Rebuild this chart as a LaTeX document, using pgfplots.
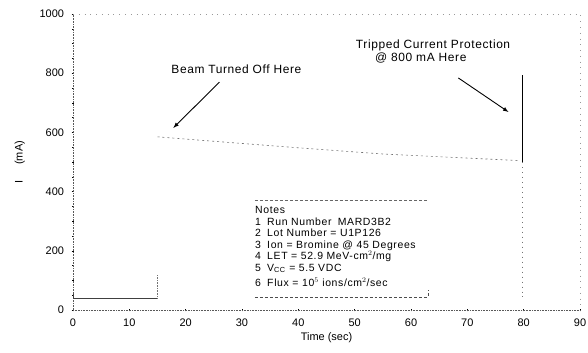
\documentclass[border=0pt]{standalone}
\usepackage{pgfplots}
\pgfplotsset{compat=1.18}
\usepackage{fontspec}
\setmainfont{Liberation Sans}
\newfontfamily\annfont[LetterSpace=5]{Liberation Sans}
\newfontfamily\notefont[LetterSpace=6]{Liberation Sans}
\begin{document}
\begin{tikzpicture}[font=\fontsize{11}{12}\selectfont]
\useasboundingbox (-73bp,-43bp) rectangle (515bp,310bp);
\begin{axis}[
  at={(0,0)}, anchor=origin,
  scale only axis,
  width=507bp, height=296bp,
  xmin=0, xmax=90, ymin=0, ymax=1000,
  axis lines=left,
  xtick={0,10,...,90}, ytick={0,200,...,1000},
  minor y tick num=3,
  /pgf/number format/assume math mode=true,
  /pgf/number format/1000 sep={},
  axis line style={black!65, densely dotted, line width=0.6pt, -},
  tick style={black, line width=0.5pt},
  major tick length=3pt, minor tick length=2pt,
  tick align=center,
  xlabel={Time (sec)}, ylabel={I\hspace{1.4em}(mA)},
  ylabel style={at={(axis description cs:-0.105,0.5)}, anchor=center, rotate=0},
  yticklabel style={xshift=-4pt},
  xticklabel style={yshift=-4pt},
  xlabel style={yshift=1pt},
  clip=false,
]
% faint frame top and right
\draw[black!40, dash pattern=on 0.8pt off 5pt, line width=0.6pt] (rel axis cs:0,1) -- (rel axis cs:1,1) -- (rel axis cs:1,0);
% current before beam off
\addplot[black!75, line width=0.5pt] coordinates {(0,55) (0,40) (15,40)};
\addplot[black!55, densely dotted, line width=0.6pt] coordinates {(15,40) (15,118)};
% slow decay while beam off
\addplot[black!55, dash pattern=on 2pt off 3pt, line width=0.6pt] coordinates {(15,585) (25,570) (40,548) (55,527) (79,505)};
% trip at 80 s
\addplot[black, line width=0.9pt] coordinates {(79.8,500) (79.8,642)};
\addplot[black, line width=0.4pt] coordinates {(79.8,642) (79.8,794)};
\addplot[black!55, dash pattern=on 1pt off 4pt, line width=0.6pt] coordinates {(79.8,500) (79.8,44)};
% notes box
\draw[black!60, densely dashed, line width=0.5pt] (axis cs:32.3,372) -- (axis cs:62.8,372);
\draw[black!70, densely dashed, line width=0.7pt] (axis cs:32.3,44) -- (axis cs:63,44) -- (axis cs:63,68);
\node[anchor=north west, align=left, inner sep=0pt, font=\notefont\fontsize{10.5}{11.6}\selectfont] at (axis cs:32.3,351) {%
Notes\\
1\hspace{0.6em}Run Number\hspace{0.6em}MARD3B2\\
2\hspace{0.6em}Lot Number = U1P126\\
3\hspace{0.6em}Ion = Bromine @ 45 Degrees\\
4\hspace{0.6em}LET = 52.9 MeV-cm$^2$/mg\\
5\hspace{0.6em}V\textsubscript{CC} = 5.5 VDC\\[4pt]
6\hspace{0.6em}Flux = 10$^5$ ions/cm$^2$/sec};
% annotations
\node[font=\annfont\fontsize{12}{13}\selectfont] at (axis cs:29,814) {Beam Turned Off Here};
\draw[-latex, line width=0.9pt] (axis cs:26,770) -- (axis cs:17.8,615);
\node[anchor=west, inner sep=0pt, font=\annfont\fontsize{12}{13}\selectfont] at (axis cs:50.2,895) {Tripped Current Protection};
\node[anchor=west, inner sep=0pt, font=\annfont\fontsize{12}{13}\selectfont] at (axis cs:53.6,851) {@ 800 mA Here};
\draw[-latex, line width=0.9pt] (axis cs:68.4,784) -- (axis cs:77.3,669);
\end{axis}
\end{tikzpicture}
\end{document}
